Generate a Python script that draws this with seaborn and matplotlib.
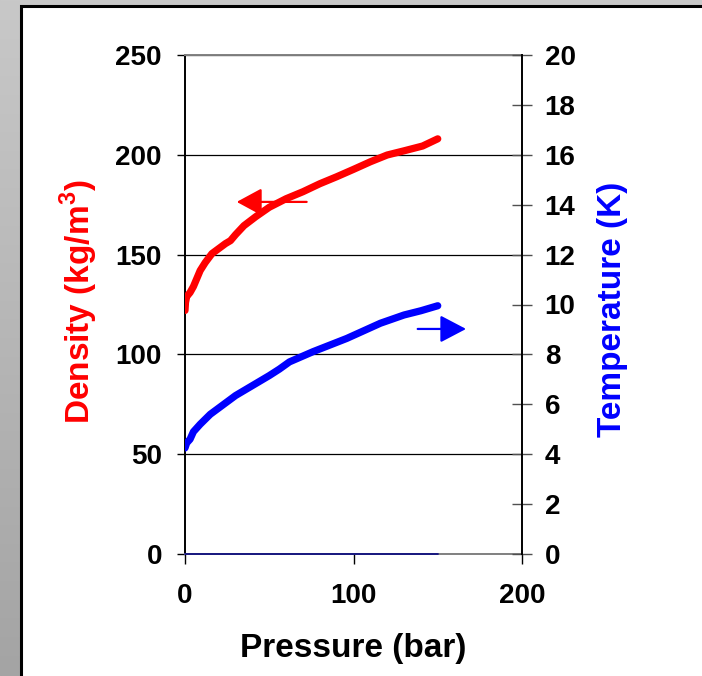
import numpy as np
import matplotlib
matplotlib.use("Agg")
import matplotlib.pyplot as plt
from matplotlib.patches import Rectangle
from matplotlib.colors import LinearSegmentedColormap
import seaborn as sns

# ---- data ----
dens_p = [0, 0.3, 1, 2, 3, 5, 7, 9, 12, 16, 20, 24, 27, 30, 35, 42, 50, 60, 70, 80, 90,
          100, 110, 120, 130, 141, 150]
dens_v = [122, 126, 129, 130, 131, 134, 138, 142, 146, 150.5, 153, 155.5, 157, 160, 164.5,
          169, 173.7, 178, 181.5, 185.5, 189, 192.7, 196.5, 199.9, 202, 204.4, 208]

temp_p = [0, 1, 3, 5, 9, 15, 22, 30, 35, 40, 50, 56, 62, 76, 96, 116, 130, 140, 150]
temp_v = [4.25, 4.45, 4.6, 4.9, 5.2, 5.6, 5.95, 6.35, 6.55, 6.75, 7.15, 7.41, 7.7, 8.11,
          8.64, 9.25, 9.58, 9.75, 9.95]

zero_p = [0, 150]
zero_v = [0, 0]

x_ticks = [0, 100, 200]
left_ticks = [0, 50, 100, 150, 200, 250]
right_ticks = [0, 2, 4, 6, 8, 10, 12, 14, 16, 18, 20]

# arrows (pressure, value)
red_arrow_from = (72.2, 176.4)
red_arrow_to = (30.7, 176.4)
blue_arrow_from = (138.1, 9.02)
blue_arrow_to = (166.8, 9.02)

sns.set_style("white")
plt.rcParams["font.family"] = ["Liberation Sans", "DejaVu Sans"]
plt.rcParams["font.weight"] = "bold"
plt.rcParams["text.color"] = "black"
plt.rcParams["mathtext.fontset"] = "custom"
plt.rcParams["mathtext.rm"] = "Liberation Sans:bold"
plt.rcParams["mathtext.bf"] = "Liberation Sans:bold"

W, H = 702, 676
fig = plt.figure(figsize=(W / 100, H / 100), dpi=100)
fig.patch.set_facecolor("#c8c8c8")

# left strip gradient
gax = fig.add_axes([0, 0, 20 / W, 1], zorder=-3)
grad = np.linspace(0, 1, 256).reshape(-1, 1)
cm = LinearSegmentedColormap.from_list("g", ["#c8c8c8", "#a4a4a4"])
gax.imshow(grad, aspect="auto", cmap=cm, extent=[0, 1, 0, 1], origin="upper")
gax.axis("off")

# white panel with black border
px = lambda v: v / W
py = lambda v: 1 - v / H
panel = Rectangle((px(21.3), -0.1), 1.2, py(6.3) + 0.1, transform=fig.transFigure,
                  facecolor="white", edgecolor="black", linewidth=2.2, zorder=-2)
fig.patches.append(panel)

ax = fig.add_axes([185 / W, 1 - 554 / H, (522 - 185) / W, (554 - 55) / H])
ax.set_facecolor("white")
ax2 = ax.twinx()

ax.set_xlim(0, 200)
ax.set_ylim(0, 250)
ax2.set_ylim(0, 20)

ax.set_yticks(left_ticks)
ax.set_xticks(x_ticks)
ax2.set_yticks(right_ticks)
ax.grid(axis="y", color="black", linewidth=0.9)
ax.grid(axis="x", visible=False)
ax2.grid(False)
ax.set_axisbelow(True)

sns.lineplot(x=dens_p, y=dens_v, ax=ax, color="#ff0000", linewidth=5.2, sort=False,
             estimator=None, solid_capstyle="round", solid_joinstyle="round", zorder=3)
sns.lineplot(x=zero_p, y=zero_v, ax=ax, color="#101080", linewidth=1.3, sort=False,
             estimator=None, zorder=4, clip_on=False)
sns.lineplot(x=temp_p, y=temp_v, ax=ax2, color="#0000ff", linewidth=5.2, sort=False,
             estimator=None, solid_capstyle="round", solid_joinstyle="round", zorder=3)

ax.annotate("", xy=red_arrow_to, xytext=red_arrow_from,
            arrowprops=dict(arrowstyle="-|>,head_length=15.5,head_width=8.4",
                            mutation_scale=1, color="#ff0000", lw=1.6,
                            shrinkA=0, shrinkB=0))
ax2.annotate("", xy=blue_arrow_to, xytext=blue_arrow_from,
             arrowprops=dict(arrowstyle="-|>,head_length=16,head_width=8.4",
                             mutation_scale=1, color="#0000ff", lw=1.6,
                             shrinkA=0, shrinkB=0))

for s in ["top", "bottom"]:
    ax.spines[s].set_color("#808080")
    ax.spines[s].set_linewidth(1.4)
ax.spines["left"].set_color("black")
ax.spines["left"].set_linewidth(1.4)
ax.spines["right"].set_visible(False)
for s in ["top", "bottom", "left"]:
    ax2.spines[s].set_visible(False)
ax2.spines["right"].set_color("black")
ax2.spines["right"].set_linewidth(1.4)

tick_font = dict(fontsize=20, fontweight="bold", color="black")
ax.set_yticklabels([str(v) for v in left_ticks], **tick_font)
ax.set_xticklabels([str(v) for v in x_ticks], **tick_font)
ax2.set_yticklabels([str(v) for v in right_ticks], **tick_font)

ax.tick_params(axis="y", direction="out", length=5.8, width=1, color="black", pad=10.8,
               left=True, labelcolor="black")
ax.tick_params(axis="x", direction="out", length=7.2, width=1, color="black", pad=14,
               bottom=True, labelcolor="black")
ax2.tick_params(axis="y", direction="inout", length=13.7, width=1, color="#505050",
                pad=9.5, right=True, labelcolor="black")

ax.set_xlabel("")
ax.set_ylabel("")
ax2.set_ylabel("")

fig.text(px(79), py(302), r"Density (kg/m$^{3}$)", rotation=90, ha="center", va="center",
         fontsize=24, fontweight="bold", color="#ff0000")
fig.text(px(612), py(309), "Temperature (K)", rotation=90, ha="center", va="center",
         fontsize=24, fontweight="bold", color="#0000ff")
fig.text(px(353), py(649), "Pressure (bar)", ha="center", va="center",
         fontsize=24, fontweight="bold", color="black")

fig.savefig("out.png", dpi=100, facecolor=fig.get_facecolor())
